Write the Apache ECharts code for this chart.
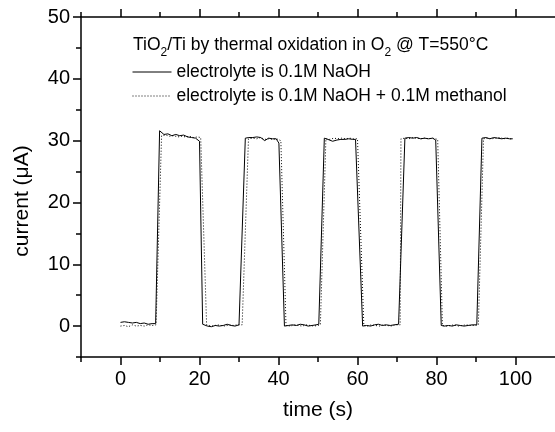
<!DOCTYPE html>
<html><head><meta charset="utf-8">
<script src="https://cdn.jsdelivr.net/npm/echarts@6/dist/echarts.min.js"></script>
<style>html,body{margin:0;padding:0;background:#fff}#c{width:555px;height:432px}</style>
</head><body><div id="c"></div>
<script>
const seriesNames = ['electrolyte is 0.1M NaOH', 'electrolyte is 0.1M NaOH + 0.1M methanol'];
const xMajorTicks = [0, 20, 40, 60, 80, 100];
const xMinorTicks = [-10, 10, 30, 50, 70, 90];
const yMajorTicks = [0, 10, 20, 30, 40, 50];
const yMinorTicks = [-5, 5, 15, 25, 35, 45];

const naohTime = [0,1,2,3,4,5,6,7,8,8.9,
  9.9,11,12,13,14,15,16,17,18,19,20,
  20.8,22,23,24,25,26,27,28,29,30,
  31.6,32.5,33.5,34.5,35.5,36.5,37.5,38.5,39.4,40.1,
  41.5,42.5,43.5,44.5,45.5,46.5,47.5,48.5,49.5,50.2,
  51.6,52.5,53.7,54.8,55.8,56.8,57.8,58.8,59.5,
  61.3,62.3,63.3,64.3,65.3,66.3,67.3,68.3,69.3,70.4,
  72.0,73,74,75,76,77,78,79,79.8,
  81.2,82,83,84,85,86,87,88,89,90.2,
  91.5,92.5,93.5,94.5,95.5,96.5,97.5,98.5,99.3];
const naohCurrent = [0.6,0.7,0.6,0.5,0.6,0.4,0.5,0.3,0.4,0.4,
  31.6,31.0,31.1,30.8,31.0,30.8,30.9,30.6,30.5,30.4,29.9,
  0.3,0.0,-0.1,0.1,0.0,0.1,0.3,0.1,0.0,0.2,
  30.4,30.5,30.5,30.6,30.5,30.0,30.4,30.3,30.3,29.6,
  0.0,0.1,0.2,0.1,0.3,0.2,0.0,0.1,0.2,0.3,
  30.4,30.2,29.9,30.1,30.2,30.2,30.3,30.2,30.2,
  0.0,0.1,0.0,0.2,0.3,0.1,0.2,0.1,0.2,0.3,
  30.4,30.5,30.4,30.5,30.3,30.4,30.3,30.4,30.1,
  0.1,0.0,0.1,0.0,0.2,0.1,0.0,0.1,0.2,0.2,
  30.4,30.5,30.3,30.5,30.4,30.3,30.4,30.3,30.3];

const methTime = [0,1,2,3,4,5,6,7,8,9.0,
  10.4,11.5,12.5,13.5,14.5,15.5,16.5,17.5,18.5,19.5,20.3,
  21.8,22.5,23.5,24.5,25.5,26.5,27.5,28.5,29.5,30.8,
  32.4,33.5,34.5,35.5,36.5,37.5,38.5,39.5,40.6,
  41.9,43,44,45,46,47,48,49,50.6,
  52.0,53,54,55,56,57,58,59,60,
  61.6,62.5,63.5,64.5,65.5,66.5,67.5,68.5,69.5,70.8,
  71.0,72,73,74,75,76,77,78,79,80.3,
  81.5,82.5,83.5,84.5,85.5,86.5,87.5,88.5,89.5,90.6,
  91.9,93,94,95,96,97,98,99.3];
const methCurrent = [0.0,0.1,-0.1,0.2,0.0,0.1,0.0,0.2,0.1,0.2,
  30.8,30.9,30.7,30.8,30.6,30.7,30.6,30.7,30.5,30.6,30.5,
  0.2,0.1,0.0,0.2,0.1,0.0,0.2,0.1,0.2,0.2,
  30.3,30.4,30.3,30.5,30.2,30.3,30.2,30.3,30.0,
  0.1,0.0,0.2,0.1,0.0,0.2,0.1,0.0,0.2,
  30.3,30.2,30.4,30.3,30.4,30.3,30.4,30.3,30.3,
  0.1,0.0,0.2,0.1,0.0,0.2,0.1,0.0,0.2,0.2,
  30.3,30.4,30.3,30.5,30.4,30.3,30.4,30.3,30.4,30.2,
  0.1,0.0,0.1,0.2,0.0,0.1,0.2,0.1,0.1,0.2,
  30.3,30.4,30.3,30.4,30.5,30.3,30.4,30.2];

const FONT = 'Liberation Sans, Arial, sans-serif';
const zip = (a, b) => a.map((v, i) => [v, b[i]]);
const tickStyle = {color: '#000', width: 1.5};
const lineStyle = {color: '#000', width: 1.5};

const chart = echarts.init(document.getElementById('c'), null, {renderer: 'canvas'});
const gridPos = {left: 81, right: 0, top: 17, bottom: 75, containLabel: false};
chart.setOption({
  animation: false,
  backgroundColor: '#fff',
  grid: [Object.assign({}, gridPos), Object.assign({}, gridPos)],
  xAxis: [
    {type: 'value', gridIndex: 0, position: 'bottom', min: -10, max: 110,
     axisLine: {show: true, onZero: false, lineStyle: lineStyle},
     axisTick: {show: true, customValues: xMajorTicks, length: 8, lineStyle: tickStyle},
     axisLabel: {show: true, customValues: xMajorTicks, color: '#000', fontSize: 20, fontFamily: FONT, margin: 12},
     splitLine: {show: false},
     name: 'time (s)', nameLocation: 'middle', nameGap: 43,
     nameTextStyle: {color: '#000', fontSize: 21, fontFamily: FONT}},
    {type: 'value', gridIndex: 0, position: 'top', min: -10, max: 110,
     axisLine: {show: true, onZero: false, lineStyle: lineStyle},
     axisTick: {show: true, customValues: xMajorTicks, length: 8, lineStyle: tickStyle},
     axisLabel: {show: false}, splitLine: {show: false}},
    {type: 'value', gridIndex: 1, position: 'bottom', min: -10, max: 110,
     axisLine: {show: false, onZero: false},
     axisTick: {show: true, customValues: xMinorTicks, length: 5, lineStyle: tickStyle},
     axisLabel: {show: false}, splitLine: {show: false}},
    {type: 'value', gridIndex: 1, position: 'top', min: -10, max: 110,
     axisLine: {show: false, onZero: false},
     axisTick: {show: true, customValues: xMinorTicks, length: 5, lineStyle: tickStyle},
     axisLabel: {show: false}, splitLine: {show: false}}
  ],
  yAxis: [
    {type: 'value', gridIndex: 0, position: 'left', min: -5, max: 50,
     axisLine: {show: true, onZero: false, lineStyle: lineStyle},
     axisTick: {show: true, customValues: yMajorTicks, length: 8, lineStyle: tickStyle},
     axisLabel: {show: true, customValues: yMajorTicks, color: '#000', fontSize: 20, fontFamily: FONT, margin: 11},
     splitLine: {show: false},
     name: 'current (μA)', nameLocation: 'middle', nameGap: 48, nameRotate: 90,
     nameTextStyle: {color: '#000', fontSize: 21, fontFamily: FONT, padding: [0, 28, 0, 0]}},
    {type: 'value', gridIndex: 1, position: 'left', min: -5, max: 50,
     axisLine: {show: false, onZero: false},
     axisTick: {show: true, customValues: yMinorTicks, length: 5, lineStyle: tickStyle},
     axisLabel: {show: false}, splitLine: {show: false}}
  ],
  legend: {
    orient: 'vertical', left: 132, top: 63, padding: 0, itemWidth: 39, itemHeight: 12, itemGap: 6,
    itemStyle: {opacity: 0},
    lineStyle: {width: 1},
    textStyle: {color: '#000', fontSize: 17.5, fontFamily: FONT},
    data: seriesNames
  },
  graphic: [{
    type: 'text', left: 133, top: 31,
    style: {
      text: 'TiO{s|2}/Ti by thermal oxidation in O{s|2} @ T=550°C',
      fontSize: 17.5, fontFamily: FONT, fill: '#000', lineHeight: 20,
      rich: {s: {fontSize: 12, fontFamily: FONT, fill: '#000', lineHeight: 20, padding: [16, 0, 0, 0]}}
    }
  }],
  series: [
    {name: seriesNames[0], type: 'line', xAxisIndex: 0, yAxisIndex: 0,
     data: zip(naohTime, naohCurrent), symbol: 'none', showSymbol: false,
     lineStyle: {color: '#000', width: 1, type: 'solid'}, itemStyle: {color: '#000'}},
    {name: seriesNames[1], type: 'line', xAxisIndex: 0, yAxisIndex: 0,
     data: zip(methTime, methCurrent), symbol: 'none', showSymbol: false,
     lineStyle: {color: '#000', width: 1, type: [1, 2]}, itemStyle: {color: '#000'}}
  ]
});
</script>
</body></html>
